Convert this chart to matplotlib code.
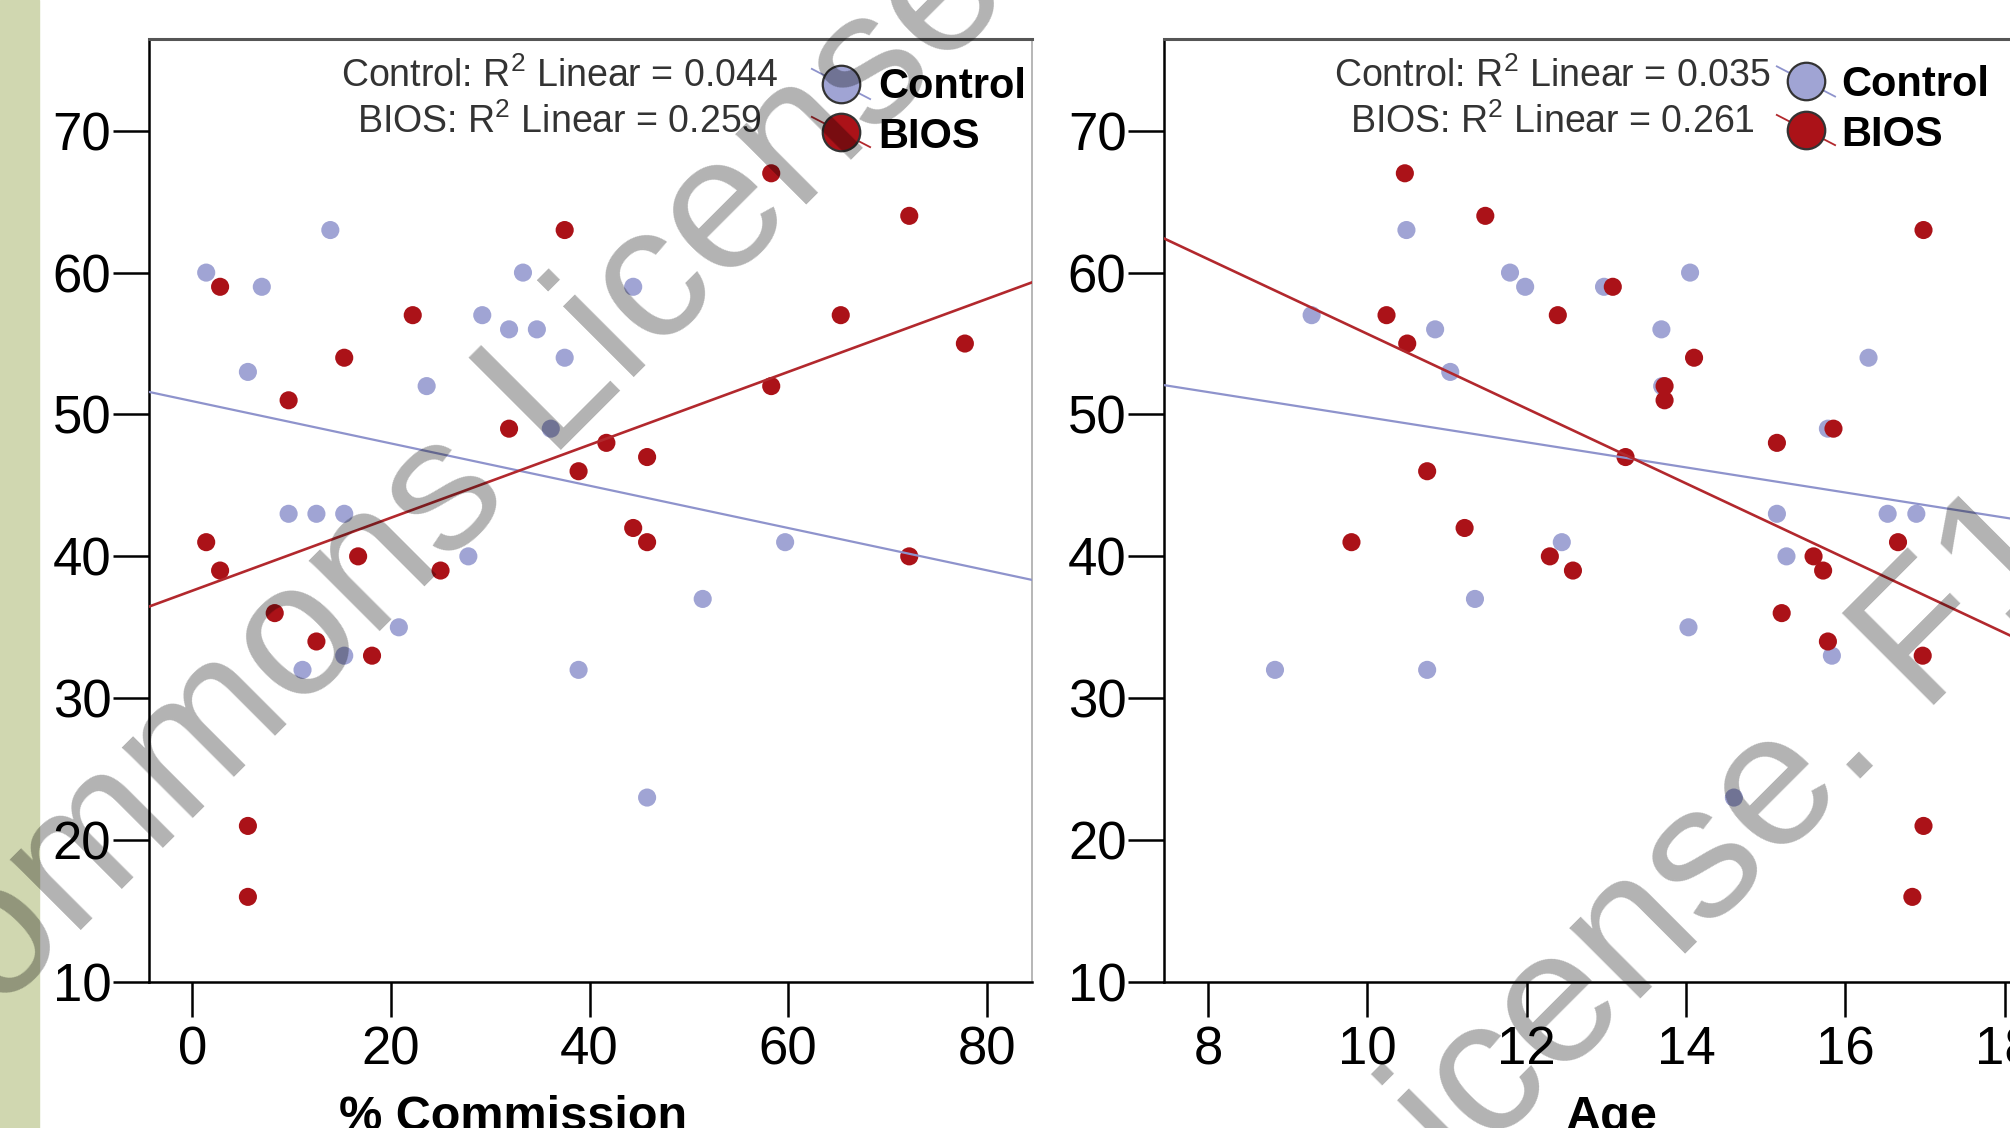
import matplotlib.pyplot as plt
from matplotlib.patches import Rectangle
import numpy as np

plt.rcParams['font.family'] = ['Liberation Sans', 'DejaVu Sans']
plt.rcParams['mathtext.fontset'] = 'custom'
plt.rcParams['mathtext.rm'] = 'Liberation Sans'
plt.rcParams['mathtext.it'] = 'Liberation Sans:italic'
plt.rcParams['mathtext.bf'] = 'Liberation Sans:bold'

# panel 1: % Commission
comm_control_x = [1.4, 5.6, 7.0, 13.9, 9.7, 12.5, 15.3, 11.1, 15.3, 20.8, 23.6, 27.8,
                  29.2, 31.9, 33.3, 34.7, 36.1, 37.5, 38.9, 44.4, 45.8, 51.4, 59.7]
comm_control_y = [60, 53, 59, 63, 43, 43, 43, 32, 33, 35, 52, 40,
                  57, 56, 60, 56, 49, 54, 32, 59, 23, 37, 41]
comm_bios_x = [1.4, 2.8, 2.8, 5.6, 5.6, 8.3, 9.7, 12.5, 15.3, 16.7, 18.1, 22.2, 25.0,
               31.9, 37.5, 38.9, 41.7, 44.4, 45.8, 45.8, 58.3, 58.3, 65.3, 72.2, 72.2, 77.8]
comm_bios_y = [41, 59, 39, 21, 16, 36, 51, 34, 54, 40, 33, 57, 39,
               49, 63, 46, 48, 42, 41, 47, 52, 67, 57, 64, 40, 55]

# panel 2: Age
age_control_x = [9.30, 8.84, 10.49, 10.85, 10.75, 11.04, 11.35, 11.79, 11.98, 12.44, 12.97, 13.69,
                 14.03, 14.05, 14.60, 15.14, 15.26, 15.78, 15.83, 16.29, 16.53, 16.89, 13.70]
age_control_y = [57, 32, 63, 56, 32, 53, 37, 60, 59, 41, 59, 56,
                 35, 60, 23, 43, 40, 49, 33, 54, 43, 43, 52]
age_bios_x = [10.47, 11.48, 10.24, 12.39, 10.50, 10.75, 11.22, 9.80, 12.29, 12.58, 13.08, 14.10, 13.73,
              13.73, 15.85, 15.14, 13.24, 16.66, 15.60, 15.72, 15.20, 15.78, 16.97, 16.98, 16.98, 16.84]
age_bios_y = [67, 64, 57, 57, 55, 46, 42, 41, 40, 39, 59, 54, 52,
              51, 49, 48, 47, 41, 40, 39, 36, 34, 33, 63, 21, 16]

# fit lines (intercept, slope)
comm_fit = {'Control': (50.94, -0.149), 'BIOS': (37.58, 0.257)}
age_fit = {'Control': (58.66, -0.885), 'BIOS': (82.03, -2.635)}

comm_r2 = ['0.044', '0.259']
age_r2 = ['0.035', '0.261']

comm_ticks = [0, 20, 40, 60, 80]
age_ticks = [8, 10, 12, 14, 16, 18]
y_ticks = [10, 20, 30, 40, 50, 60, 70]

BLUE = '#a0a4d4'
RED = '#ab1218'
BLUE_LINE = '#8e93cc'
RED_LINE = '#b2282d'

W, H = 2010, 1128


def panel(ax, cx, cy, bx, by, fit, r2, xlim, xticks, txt_x, leg_x, txt_x2, leg_y):
    ax.scatter(cx, cy, s=170, color=BLUE, edgecolors='none', zorder=3)
    ax.scatter(bx, by, s=170, color=RED, edgecolors='none', zorder=3)
    ax.set_xlim(xlim)
    ax.set_ylim(10, 76.5)
    xs = np.array(xlim)
    a, b = fit['Control']
    ax.plot(xs, a + b * xs, color=BLUE_LINE, lw=1.6, zorder=4)
    a, b = fit['BIOS']
    ax.plot(xs, a + b * xs, color=RED_LINE, lw=1.9, zorder=4)

    ax.set_xticks(xticks)
    ax.set_yticks(y_ticks)
    ax.tick_params(axis='y', length=26, width=1.8, pad=1, labelsize=38)
    ax.tick_params(axis='x', length=25, width=1.8, pad=6, labelsize=38)
    for s in ['left', 'bottom']:
        ax.spines[s].set_linewidth(1.8)
    ax.spines['top'].set_linewidth(2.2)
    ax.spines['top'].set_color('#555555')
    ax.spines['right'].set_linewidth(1.2)
    ax.spines['right'].set_color('#aaaaaa')

    ax.text(txt_x, 0.949, 'Control: R$^2$ Linear = ' + r2[0], transform=ax.transAxes,
            ha='center', va='baseline', fontsize=27, color='#333333')
    ax.text(txt_x, 0.900, 'BIOS: R$^2$ Linear = ' + r2[1], transform=ax.transAxes,
            ha='center', va='baseline', fontsize=27, color='#333333')

    # legend: short fit line + marker + label
    dx, dy = 0.033, 0.016
    for (name, fc, lc, my, ty) in [('Control', BLUE, BLUE_LINE, leg_y[0], leg_y[2]),
                                    ('BIOS', RED, RED_LINE, leg_y[1], leg_y[3])]:
        ax.plot([leg_x - dx, leg_x + dx], [my + dy, my - dy], color=lc, lw=1.3,
                transform=ax.transAxes, clip_on=False, zorder=5)
        ax.plot([leg_x], [my], 'o', ms=27, mfc=fc, mec='#333333', mew=1.6,
                transform=ax.transAxes, clip_on=False, zorder=6)
        ax.text(txt_x2, ty, name, transform=ax.transAxes, ha='left', va='baseline',
                fontsize=30, fontweight='bold', color='black', zorder=7)


fig = plt.figure(figsize=(W / 100, H / 100), dpi=100)
fig.patches.append(Rectangle((0, 0), 38.5 / W, 1, transform=fig.transFigure,
                             color='#d0d7b0', zorder=0))

bottom = 1 - 982 / H
height = 943.5 / H
ax1 = fig.add_axes([148.7 / W, bottom, 883 / W, height])
ax2 = fig.add_axes([1164 / W, bottom, 883 / W, height])

panel(ax1, comm_control_x, comm_control_y, comm_bios_x, comm_bios_y, comm_fit, comm_r2,
      (-4.39, 84.53), comm_ticks, 0.4647, 0.784, 0.8266, (0.9518, 0.9009, 0.937, 0.884))
panel(ax2, age_control_x, age_control_y, age_bios_x, age_bios_y, age_fit, age_r2,
      (7.447, 18.53), age_ticks, 0.440, 0.727, 0.7667, (0.9545, 0.903, 0.9386, 0.8856))

fig.text(513 / W, -0.002, '% Commission', ha='center', va='baseline',
         fontsize=35, fontweight='bold')
fig.text(1611.5 / W, -0.002, 'Age', ha='center', va='baseline',
         fontsize=35, fontweight='bold')

# watermark over the picture
fig.text(1015 / W, 1 + 3 / H, 'Creative Commons License', rotation=45,
         rotation_mode='anchor', ha='right', va='baseline', fontsize=137,
         color='black', alpha=0.3, zorder=20)
fig.text(1385 / W, 1 - 1255 / H, 'License. F1000Research', rotation=45,
         rotation_mode='anchor', ha='left', va='baseline', fontsize=137,
         color='black', alpha=0.3, zorder=20)

fig.savefig('out.png', dpi=100)
